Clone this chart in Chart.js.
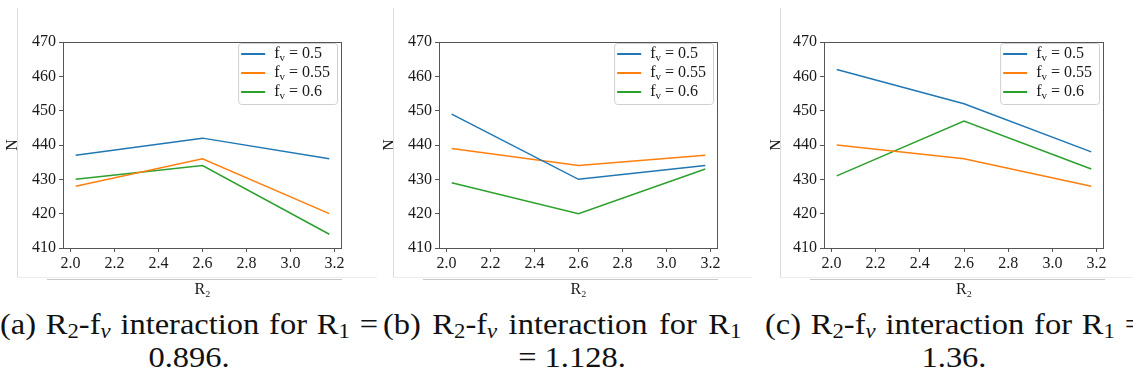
<!DOCTYPE html>
<html>
<head>
<meta charset="utf-8">
<script src="https://cdn.jsdelivr.net/npm/chart.js@4.4.1/dist/chart.umd.min.js"></script>
<style>
  html, body { margin: 0; padding: 0; background: #fff; }
  body { width: 1133px; height: 383px; overflow: hidden; position: relative; }
  .panel { position: absolute; top: 0; height: 300px; }
  .rule { position: absolute; }
  .cap {
    position: absolute; top: 308px; width: 337.5px;
    transform: scaleX(1.12); transform-origin: 0 0;
    font-family: 'Liberation Serif', 'DejaVu Serif', serif; font-size: 29px; line-height: 33px; color: #111;
  }
  .cap .l1 { white-space: nowrap; }
  .cap .l1.full { display: flex; justify-content: space-between; }
  .cap .l2 { text-align: center; white-space: nowrap; }
  .cap sub { font-size: 70%; vertical-align: -0.22em; line-height: 0; }
</style>
</head>
<body>

<canvas id="chartA" class="panel" style="left:0px" width="380" height="300"></canvas>
<canvas id="chartB" class="panel" style="left:380px" width="380" height="300"></canvas>
<canvas id="chartC" class="panel" style="left:760px" width="373" height="300"></canvas>

<!-- thin frame rules around each figure -->
<div class="rule" style="left:17px;top:8px;width:1px;height:270px;background:#dcdcdc"></div>
<div class="rule" style="left:17px;top:277px;width:360px;height:1px;background:#ececec"></div>
<div class="rule" style="left:47px;top:279px;width:295px;height:1px;background:#c8c8c8"></div>

<div class="rule" style="left:393px;top:8px;width:1px;height:270px;background:#dcdcdc"></div>
<div class="rule" style="left:393px;top:277px;width:359px;height:1px;background:#ececec"></div>
<div class="rule" style="left:423px;top:279px;width:295px;height:1px;background:#c8c8c8"></div>

<div class="rule" style="left:780px;top:8px;width:1px;height:270px;background:#dcdcdc"></div>
<div class="rule" style="left:780px;top:277px;width:353px;height:1px;background:#ececec"></div>
<div class="rule" style="left:810px;top:279px;width:295px;height:1px;background:#c8c8c8"></div>

<div class="cap" style="left:0px">
  <div class="l1 full"><span>(a)</span><span>R<sub>2</sub>-f<sub><i>v</i></sub></span><span>interaction</span><span>for</span><span>R<sub>1</sub></span><span>=</span></div>
  <div class="l2">0.896.</div>
</div>
<div class="cap" style="left:383px">
  <div class="l1" style="word-spacing:3px">(b) R<sub>2</sub>-f<sub><i>v</i></sub> interaction for R<sub>1</sub></div>
  <div class="l2">= 1.128.</div>
</div>
<div class="cap" style="left:765px">
  <div class="l1 full"><span>(c)</span><span>R<sub>2</sub>-f<sub><i>v</i></sub></span><span>interaction</span><span>for</span><span>R<sub>1</sub></span><span>=</span></div>
  <div class="l2">1.36.</div>
</div>

<script>
// R2 levels and axis ticks
const r2Values = [2.024, 2.6, 3.176];
const r2Ticks = [2.0, 2.2, 2.4, 2.6, 2.8, 3.0, 3.2];
const nTicks = [410, 420, 430, 440, 450, 460, 470];
const fvLabels = ['0.5', '0.55', '0.6'];
const seriesColors = ['#1f77b4', '#ff7f0e', '#2ca02c'];

// N for R1 = 0.896
const nA_fv050 = [437, 442, 436];
const nA_fv055 = [428, 436, 420];
const nA_fv060 = [430, 434, 414];

// N for R1 = 1.128
const nB_fv050 = [449, 430, 434];
const nB_fv055 = [439, 434, 437];
const nB_fv060 = [429, 420, 433];

// N for R1 = 1.36
const nC_fv050 = [462, 452, 438];
const nC_fv055 = [440, 436, 428];
const nC_fv060 = [431, 447, 433];

const SERIF = "'Liberation Serif', 'DejaVu Serif', serif";
const INK = '#1a1a1a';
const SPINE = '#555';

// matplotlib-style 5% margins around the R2 data
const r2Span = r2Values[r2Values.length - 1] - r2Values[0];
const r2Min = r2Values[0] - 0.05 * r2Span;
const r2Max = r2Values[r2Values.length - 1] + 0.05 * r2Span;

// Box around the plot area plus a legend in the upper-right corner
const framePlugin = {
  id: 'frameAndLegend',
  afterDatasetsDraw(chart) {
    const { ctx, chartArea: a } = chart;
    ctx.save();
    ctx.strokeStyle = SPINE;
    ctx.lineWidth = 1;
    ctx.strokeRect(Math.round(a.left) + 0.5, Math.round(a.top) + 0.5,
                   Math.round(a.right - a.left) - 1, Math.round(a.bottom - a.top));

    // legend
    const main = '16px ' + SERIF, sub = '11px ' + SERIF;
    const rowH = 19, lineLen = 24, padL = 3, gap = 9, padR = 7;
    const items = chart.data.datasets.map(ds => {
      ctx.font = main; const wf = ctx.measureText('f').width;
      ctx.font = sub;  const wv = ctx.measureText('v').width;
      ctx.font = main; const wr = ctx.measureText(' = ' + ds.fv).width;
      return { ds, wf, wv, wr, w: wf + wv + wr };
    });
    const textW = Math.max(...items.map(i => i.w));
    const boxW = padL + lineLen + gap + textW + padR;
    const boxH = rowH * items.length + 4;
    const bx = a.right - 5 - boxW, by = a.top + 1;
    ctx.fillStyle = 'rgba(255,255,255,0.85)';
    ctx.strokeStyle = '#d0d0d0';
    ctx.beginPath();
    ctx.roundRect(bx + 0.5, by + 0.5, boxW, boxH, 3);
    ctx.fill(); ctx.stroke();
    items.forEach((it, i) => {
      const cy = by + 11 + i * rowH;
      ctx.strokeStyle = it.ds.borderColor;
      ctx.lineWidth = 2;
      ctx.beginPath();
      ctx.moveTo(bx + padL, cy); ctx.lineTo(bx + padL + lineLen, cy);
      ctx.stroke();
      let tx = bx + padL + lineLen + gap;
      ctx.fillStyle = INK;
      ctx.textBaseline = 'middle';
      ctx.textAlign = 'left';
      ctx.font = main; ctx.fillText('f', tx, cy); tx += it.wf;
      ctx.font = sub;  ctx.fillText('v', tx, cy + 4); tx += it.wv;
      ctx.font = main; ctx.fillText(' = ' + it.ds.fv, tx, cy);
    });
    ctx.restore();
  }
};

function makePanel(canvasId, series, layout) {
  const datasets = series.map((vals, i) => ({
    label: 'fv = ' + fvLabels[i],
    fv: fvLabels[i],
    data: r2Values.map((x, j) => ({ x, y: vals[j] })),
    borderColor: seriesColors[i],
    backgroundColor: seriesColors[i],
    borderWidth: 1.5,
    pointRadius: 0,
    tension: 0,
    fill: false
  }));
  return new Chart(document.getElementById(canvasId), {
    type: 'line',
    data: { datasets },
    options: {
      responsive: false,
      animation: false,
      devicePixelRatio: 1,
      layout: { padding: { top: 42, right: layout.padRight, bottom: 0, left: 0 } },
      plugins: { legend: { display: false }, tooltip: { enabled: false } },
      scales: {
        x: {
          type: 'linear',
          min: r2Min, max: r2Max,
          afterBuildTicks: s => { s.ticks = r2Ticks.map(v => ({ value: v })); },
          afterFit: s => { s.height = 52; },
          border: { display: false },
          grid: { drawOnChartArea: false, drawTicks: true, tickLength: 4, tickColor: SPINE },
          ticks: {
            autoSkip: false, maxRotation: 0, padding: 2,
            color: INK, font: { family: SERIF, size: 16 },
            callback: v => Number(v).toFixed(1)
          },
          title: {
            display: true, text: 'R₂', color: INK,
            font: { family: SERIF, size: 16 }, padding: { top: 0, bottom: 1 }
          }
        },
        y: {
          type: 'linear',
          min: nTicks[0], max: nTicks[nTicks.length - 1],
          afterBuildTicks: s => { s.ticks = nTicks.map(v => ({ value: v })); },
          afterFit: s => { s.width = layout.yWidth; },
          border: { display: false },
          grid: { drawOnChartArea: false, drawTicks: true, tickLength: 4, tickColor: SPINE },
          ticks: {
            padding: 3, color: INK, font: { family: SERIF, size: 16 }
          },
          title: {
            display: true, text: 'N', color: INK,
            font: { family: SERIF, size: 16 }, padding: { top: layout.nPad, bottom: 0 }
          }
        }
      }
    },
    plugins: [framePlugin]
  });
}

makePanel('chartA', [nA_fv050, nA_fv055, nA_fv060], { yWidth: 63, padRight: 38, nPad: 3 });
makePanel('chartB', [nB_fv050, nB_fv055, nB_fv060], { yWidth: 59, padRight: 42, nPad: 0 });
makePanel('chartC', [nC_fv050, nC_fv055, nC_fv060], { yWidth: 64, padRight: 29, nPad: 7 });
</script>
</body>
</html>
